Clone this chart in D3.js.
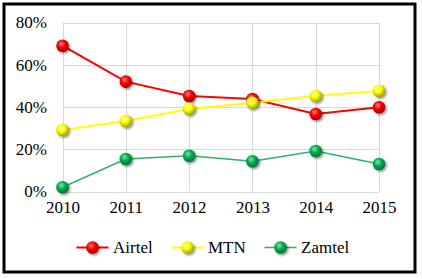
<!DOCTYPE html>
<html>
<head>
<meta charset="utf-8">
<script src="https://cdn.jsdelivr.net/npm/d3@7"></script>
<style>
  html, body { margin: 0; padding: 0; background: #fff; }
  svg { display: block; }
</style>
</head>
<body>
<div id="chart"></div>
<script>
var years = ['2010', '2011', '2012', '2013', '2014', '2015']
var airtel = [69.0, 52.0, 45.2, 43.8, 36.7, 39.9]
var mtn = [29.1, 33.4, 39.1, 42.0, 45.2, 47.7]
var zamtel = [2.0, 15.4, 16.9, 14.3, 19.2, 13.0]
var y_ticks = [0, 20, 40, 60, 80]

var series = [
  { name: 'Airtel', values: airtel, color: '#ff0000', ball: '#ff0000', light: '#ff8a8a', dark: '#a00000', width: 2 },
  { name: 'MTN', values: mtn, color: '#ffff00', ball: '#ffff00', light: '#ffffb0', dark: '#a0a000', width: 2 },
  { name: 'Zamtel', values: zamtel, color: '#2db369', ball: '#00b050', light: '#80eaa8', dark: '#00703a', width: 1.5 }
]

var w = 422
var h = 279

var svg = d3.select('#chart').append('svg')
  .attr('width', w)
  .attr('height', h)

var defs = svg.append('defs')
var f = defs.append('filter').attr('id', 'shadow')
  .attr('x', '-50%').attr('y', '-50%').attr('width', '200%').attr('height', '200%')
f.append('feDropShadow')
  .attr('dx', 1.5).attr('dy', 1.5).attr('stdDeviation', 1.2)
  .attr('flood-color', '#000').attr('flood-opacity', 0.45)

series.forEach(function (s, idx) {
  var g = defs.append('radialGradient').attr('id', 'ball' + idx)
    .attr('cx', '40%').attr('cy', '35%').attr('r', '65%')
  g.append('stop').attr('offset', '0%').attr('stop-color', s.light)
  g.append('stop').attr('offset', '45%').attr('stop-color', s.ball)
  g.append('stop').attr('offset', '100%').attr('stop-color', s.dark)
})

// outer frame
svg.append('rect')
  .attr('x', 4).attr('y', 4)
  .attr('width', 411).attr('height', 268)
  .attr('fill', 'white')
  .attr('stroke', 'black')
  .attr('stroke-width', 3)

var x = d3.scalePoint().domain(years).range([62.5, 379])
var y = d3.scaleLinear().domain([0, 80]).range([191.5, 22.5])

// gridlines
svg.append('g').selectAll('line.h')
  .data(y_ticks).enter().append('line')
  .attr('x1', 62.5).attr('x2', 379)
  .attr('y1', function (d) { return Math.round(y(d)) + 0.5 })
  .attr('y2', function (d) { return Math.round(y(d)) + 0.5 })
  .attr('stroke', '#d9d9d9').attr('stroke-width', 1)

svg.append('g').selectAll('line.v')
  .data(years).enter().append('line')
  .attr('x1', function (d) { return Math.round(x(d)) + 0.5 })
  .attr('x2', function (d) { return Math.round(x(d)) + 0.5 })
  .attr('y1', 22.5).attr('y2', 191.5)
  .attr('stroke', '#d9d9d9').attr('stroke-width', 1)

// axes
var y_axis = svg.append('g')
  .attr('transform', 'translate(62,0)')
  .call(d3.axisLeft(y).tickValues(y_ticks).tickSize(0).tickPadding(15).tickFormat(function (d) { return d + '%' }))
y_axis.select('.domain').remove()
y_axis.selectAll('text')
  .style('font-family', 'Liberation Serif')
  .style('font-size', '17px')
  .attr('fill', '#000')

var x_axis = svg.append('g')
  .attr('transform', 'translate(0,191.5)')
  .call(d3.axisBottom(x).tickSize(0).tickPadding(9))
x_axis.select('.domain').remove()
x_axis.selectAll('text')
  .style('font-family', 'Liberation Serif')
  .style('font-size', '17px')
  .attr('fill', '#000')

// lines + markers
var line = d3.line()
  .x(function (d, i) { return x(years[i]) })
  .y(function (d) { return y(d) })

series.forEach(function (s, idx) {
  svg.append('path')
    .datum(s.values)
    .attr('d', line)
    .attr('fill', 'none')
    .attr('stroke', s.color)
    .attr('stroke-width', s.width)
})

series.forEach(function (s, idx) {
  svg.append('g').selectAll('circle')
    .data(s.values).enter().append('circle')
    .attr('cx', function (d, i) { return x(years[i]) })
    .attr('cy', function (d) { return y(d) })
    .attr('r', 6.3)
    .attr('fill', 'url(#ball' + idx + ')')
    .attr('filter', 'url(#shadow)')
})

// legend
var legend_x = [76.5, 171.5, 264.5]
var legend_y = 247.5
series.forEach(function (s, idx) {
  var g = svg.append('g').attr('transform', 'translate(' + legend_x[idx] + ',' + legend_y + ')')
  g.append('line')
    .attr('x1', 0).attr('x2', 32)
    .attr('y1', 0).attr('y2', 0)
    .attr('stroke', s.color).attr('stroke-width', s.width)
  g.append('circle')
    .attr('cx', 16).attr('cy', 0).attr('r', 6.3)
    .attr('fill', 'url(#ball' + idx + ')')
    .attr('filter', 'url(#shadow)')
  g.append('text')
    .attr('x', 36.5).attr('y', 0).attr('dy', '0.33em')
    .style('font-family', 'Liberation Serif')
    .style('font-size', '17px')
    .text(s.name)
})
</script>
</body>
</html>
